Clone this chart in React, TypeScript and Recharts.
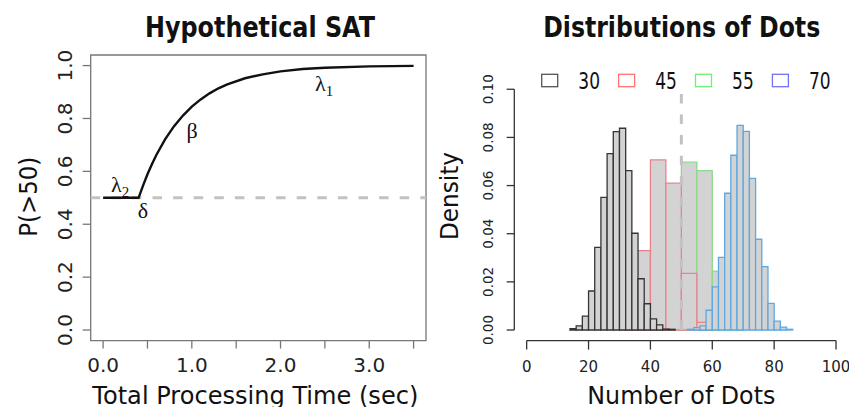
import React from 'react';
import {
  ComposedChart,
  Line,
  Scatter,
  XAxis,
  YAxis,
  ReferenceArea,
  ReferenceLine,
} from 'recharts';

// left panel: speed-accuracy curve
const timeSec = [0, 0.4, 0.45, 0.5, 0.55, 0.6, 0.7, 0.8, 0.9, 1.0, 1.1, 1.2, 1.3, 1.4, 1.6, 1.8, 2.0, 2.25, 2.5, 3.0, 3.5];
const pAbove50 = [0.5, 0.5, 0.546, 0.589, 0.627, 0.662, 0.722, 0.771, 0.811, 0.845, 0.872, 0.895, 0.914, 0.929, 0.952, 0.967, 0.978, 0.987, 0.992, 0.997, 0.999];
const timeTicks = [0, 0.5, 1, 1.5, 2, 2.5, 3, 3.5];
const probTicks = [0, 0.2, 0.4, 0.6, 0.8, 1];
const noteTime = [2.39, 0.94, 0.09, 0.39];
const noteProb = [0.904, 0.726, 0.522, 0.424];
const noteSym = ['λ', 'β', 'λ', 'δ'];
const noteSub = ['1', '', '2', ''];

// right panel: histograms (bin edges + densities)
const dotGroups = ['30', '45', '55', '70'];
const legendColors = ['#555555', '#ff7272', '#72ee72', '#7272f2'];
const breaks30 = [14, 16, 18, 20, 22, 24, 26, 28, 30, 32, 34, 36, 38, 40, 42, 44, 46, 48];
const density30 = [0.0006, 0.0017, 0.0058, 0.0162, 0.0343, 0.0551, 0.0733, 0.0824, 0.0838, 0.0662, 0.0402, 0.0213, 0.0109, 0.0046, 0.0021, 0.0004, 0.0003];
const breaks45 = [30, 35, 40, 45, 50, 55, 60];
const density45 = [0.004, 0.033, 0.0707, 0.061, 0.0235, 0.0032];
const breaks55 = [40, 45, 50, 55, 60, 65, 70];
const density55 = [0.003, 0.03, 0.0697, 0.0662, 0.0245, 0.003];
const breaks70 = [52, 54, 56, 58, 60, 62, 64, 66, 68, 70, 72, 74, 76, 78, 80, 82, 84, 86];
const density70 = [0.0003, 0.001, 0.0017, 0.0082, 0.0179, 0.0302, 0.0568, 0.0726, 0.085, 0.0825, 0.063, 0.0377, 0.0263, 0.0111, 0.0037, 0.0012, 0.0003];
const dotTicks = [0, 20, 40, 60, 80, 100];
const densityTicks = [0, 0.02, 0.04, 0.06, 0.08, 0.1];
const cutoff = 50;

const SANS = "'DejaVu Sans', sans-serif";
const SERIF = "'Liberation Serif', 'DejaVu Serif', serif";

const curveData = timeSec.map((t, i) => ({ t, p: pAbove50[i] }));
const notes = noteTime.map((t, i) => ({ t, p: noteProb[i], sym: noteSym[i], sub: noteSub[i] }));
const cutoffData = [
  { x: cutoff, y: 0 },
  { x: cutoff, y: 0.1 },
];

const toBins = (breaks: number[], dens: number[]) =>
  dens.map((d, i) => ({ x1: breaks[i], x2: breaks[i + 1], y: d }));

// drawing order matters: 55 under 45 under 30, 70 on top
const histograms = [
  { name: '55', stroke: '#8cd98c', bins: toBins(breaks55, density55) },
  { name: '45', stroke: '#e8838e', bins: toBins(breaks45, density45) },
  { name: '30', stroke: '#353535', bins: toBins(breaks30, density30) },
  { name: '70', stroke: '#5ca8e2', bins: toBins(breaks70, density70) },
];

const TimeTick = (props: any) => {
  const { x, y, payload } = props;
  if (!Number.isInteger(payload.value)) return <g />;
  return (
    <text x={x} y={y + 21} textAnchor="middle" fontSize={20} fontFamily={SANS} fill="#222">
      {payload.value.toFixed(1)}
    </text>
  );
};

const ProbTick = (props: any) => {
  const { x, y, payload } = props;
  const bx = x - 9;
  return (
    <text x={bx} y={y} transform={`rotate(-90, ${bx}, ${y})`} textAnchor="middle" fontSize={20} fontFamily={SANS} fill="#222">
      {payload.value.toFixed(1)}
    </text>
  );
};

const DotTick = (props: any) => {
  const { x, y, payload } = props;
  return (
    <text x={x} y={y + 20.5} textAnchor="middle" fontSize={15} fontFamily={SANS} fill="#222">
      {payload.value}
    </text>
  );
};

const DensityTick = (props: any) => {
  const { x, y, payload } = props;
  const bx = x - 11.4;
  return (
    <text x={bx} y={y} transform={`rotate(-90, ${bx}, ${y})`} textAnchor="middle" fontSize={13.5} fontFamily={SANS} fill="#222">
      {payload.value.toFixed(2)}
    </text>
  );
};

const NoteShape = (props: any) => {
  const { cx, cy, payload } = props;
  return (
    <text x={cx} y={cy} fontFamily={SERIF} fontSize={22} fill="#111">
      {payload.sym}
      {payload.sub ? (
        <tspan fontSize={15} dy={5}>
          {payload.sub}
        </tspan>
      ) : null}
    </text>
  );
};

const xTitle = (text: string, width: number, shift: number) => (props: any) => {
  const vb = props.viewBox;
  return (
    <text x={vb.x + vb.width / 2 + shift} y={vb.y + 63.5} textAnchor="middle" fontSize={25} fontFamily={SANS} fill="#111" textLength={width} lengthAdjust="spacingAndGlyphs">
      {text}
    </text>
  );
};

const yTitle = (text: string, width: number, bx: number, cyShift: number) => (props: any) => {
  const vb = props.viewBox;
  const cx = vb.x + bx;
  const cy = vb.y + vb.height / 2 + cyShift;
  return (
    <text x={cx} y={cy} transform={`rotate(-90, ${cx}, ${cy})`} textAnchor="middle" fontSize={25} fontFamily={SANS} fill="#111" textLength={width} lengthAdjust="spacingAndGlyphs">
      {text}
    </text>
  );
};

const SatChart = () => (
  <ComposedChart width={430} height={407} data={curveData} margin={{ top: 55, right: 4, bottom: 0, left: 0 }}>
    <XAxis
      type="number"
      dataKey="t"
      domain={[-0.14, 3.64]}
      ticks={timeTicks}
      allowDataOverflow
      axisLine={false}
      tickSize={8}
      tickLine={{ stroke: '#777', strokeWidth: 1.3 }}
      tick={<TimeTick />}
      height={66.4}
      label={xTitle('Total Processing Time (sec)', 326, -3)}
    />
    <YAxis
      type="number"
      domain={[-0.04, 1.04]}
      ticks={probTicks}
      allowDataOverflow
      axisLine={false}
      tickSize={8}
      tickLine={{ stroke: '#777', strokeWidth: 1.3 }}
      tick={<ProbTick />}
      width={90.7}
      label={yTitle('P(>50)', 80, 36.7, -1)}
    />
    <ReferenceArea x1={-0.14} x2={3.64} y1={-0.04} y2={1.04} fill="none" stroke="#777" strokeWidth={1.3} ifOverflow="visible" />
    <ReferenceLine y={0.5} stroke="#c2c2c2" strokeWidth={3} strokeDasharray="9.5 11.1" />
    <Line type="linear" dataKey="p" stroke="#111" strokeWidth={2.4} dot={false} isAnimationActive={false} />
    <Scatter data={notes} dataKey="p" shape={<NoteShape />} isAnimationActive={false} />
  </ComposedChart>
);

const DotsChart = () => (
  <ComposedChart width={429} height={407} data={cutoffData} margin={{ top: 54.6, right: 0.6, bottom: 0, left: 0 }}>
    <XAxis
      type="number"
      dataKey="x"
      domain={[-4, 104]}
      ticks={dotTicks}
      allowDataOverflow
      axisLine={false}
      tickSize={9}
      tickLine={{ stroke: '#333', strokeWidth: 1.3 }}
      tick={<DotTick />}
      height={66.4}
      label={xTitle('Number of Dots', 188, 0)}
    />
    <YAxis
      type="number"
      domain={[-0.0044, 0.1144]}
      ticks={densityTicks}
      allowDataOverflow
      axisLine={false}
      tickSize={7.6}
      tickLine={{ stroke: '#333', strokeWidth: 1.3 }}
      tick={<DensityTick />}
      width={94.3}
      label={yTitle('Density', 88, 37.5, -1.6)}
    />
    {histograms.flatMap((h) =>
      h.bins.map((b, i) => (
        <ReferenceArea
          key={`${h.name}-${i}`}
          x1={b.x1}
          x2={b.x2}
          y1={0}
          y2={b.y}
          fill="#d3d3d3"
          fillOpacity={1}
          stroke={h.stroke}
          strokeWidth={1.3}
          ifOverflow="visible"
        />
      ))
    )}
    <ReferenceLine segment={[{ x: 0, y: -0.0044 }, { x: 100, y: -0.0044 }]} stroke="#333" strokeWidth={1.3} ifOverflow="visible" />
    <ReferenceLine segment={[{ x: -4, y: 0 }, { x: -4, y: 0.1 }]} stroke="#333" strokeWidth={1.3} ifOverflow="visible" />
    <Line type="linear" dataKey="y" stroke="#c2c2c2" strokeWidth={3} strokeDasharray="9.5 11.1" dot={false} isAnimationActive={false} />
  </ComposedChart>
);

export default function App() {
  return (
    <div style={{ position: 'absolute', left: 0, top: 0, width: 849, height: 407, background: '#fff', overflow: 'hidden' }}>
      <div style={{ position: 'absolute', left: 0, top: 0 }}>
        <SatChart />
      </div>
      <div style={{ position: 'absolute', left: 420, top: 0 }}>
        <DotsChart />
      </div>
      <svg width={849} height={407} style={{ position: 'absolute', left: 0, top: 0, pointerEvents: 'none' }}>
        <text x={260} y={37} textAnchor="middle" fontSize={29} fontWeight="bold" fontFamily={SANS} fill="#111" textLength={230} lengthAdjust="spacingAndGlyphs">
          Hypothetical SAT
        </text>
        <text x={681.7} y={37} textAnchor="middle" fontSize={29} fontWeight="bold" fontFamily={SANS} fill="#111" textLength={277} lengthAdjust="spacingAndGlyphs">
          Distributions of Dots
        </text>
        {dotGroups.map((g, i) => (
          <g key={g}>
            <rect x={541.7 + i * 76.9} y={74.3} width={16} height={12.4} fill="none" stroke={legendColors[i]} strokeWidth={1.3} />
            <text x={578.3 + i * 76.9} y={89} fontSize={23} fontFamily={SANS} fill="#111" textLength={21.7} lengthAdjust="spacingAndGlyphs">
              {g}
            </text>
          </g>
        ))}
      </svg>
    </div>
  );
}
